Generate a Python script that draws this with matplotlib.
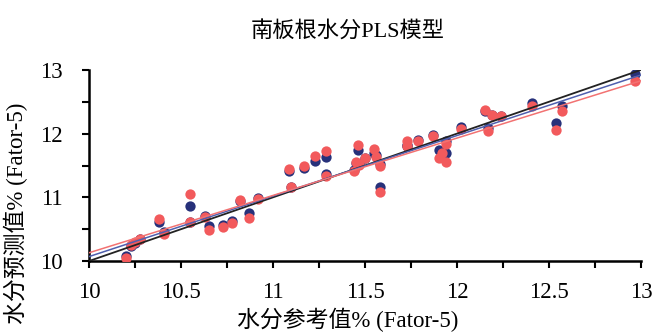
import numpy as np
import matplotlib.pyplot as plt
from matplotlib.ticker import MultipleLocator

plt.rcParams['font.family'] = ['Liberation Serif', 'Noto Sans CJK SC']

# 参考值 (x) 与两组预测值
ref = [10.20, 10.23, 10.25, 10.28, 10.38, 10.41, 10.55, 10.55, 10.63, 10.65,
       10.73, 10.78, 10.82, 10.87, 10.92, 11.09, 11.10, 11.17, 11.23, 11.29,
       11.29, 11.44, 11.45, 11.46, 11.47, 11.50, 11.55, 11.56, 11.58, 11.58,
       11.73, 11.73, 11.79, 11.87, 11.90, 11.92, 11.94, 11.94, 12.02, 12.15,
       12.17, 12.19, 12.24, 12.41, 12.54, 12.57, 12.97]
pred_blue = [10.08, 10.24, 10.29, 10.34, 10.62, 10.45, 10.86, 10.62, 10.70, 10.55,
             10.56, 10.63, 10.94, 10.75, 10.99, 11.42, 11.17, 11.46, 11.57, 11.63,
             11.37, 11.43, 11.54, 11.74, 11.52, 11.62, 11.70, 11.66, 11.52, 11.17,
             11.82, 11.81, 11.90, 11.98, 11.75, 11.72, 11.69, 11.89, 12.10, 12.36,
             12.09, 12.29, 12.28, 12.48, 12.16, 12.43, 12.94]
pred_red = [10.05, 10.25, 10.30, 10.35, 10.66, 10.42, 11.06, 10.62, 10.69, 10.49,
            10.54, 10.60, 10.96, 10.68, 10.98, 11.45, 11.16, 11.49, 11.65, 11.73,
            11.33, 11.41, 11.56, 11.82, 11.51, 11.61, 11.76, 11.64, 11.50, 11.08,
            11.88, 11.81, 11.89, 11.97, 11.62, 11.70, 11.56, 11.83, 12.08, 12.37,
            12.04, 12.30, 12.27, 12.44, 12.05, 12.36, 12.82]

# 拟合线端点
line_x = [10, 13]
line_ref = [10.0, 13.0]
line_blue = [10.07, 12.92]
line_red = [10.13, 12.83]

fig = plt.figure(figsize=(6.54, 3.33), dpi=100)
ax = fig.add_axes([0.136, 0.216, 0.844, 0.574])

ax.scatter(ref, pred_blue, s=55, color='#27317a', zorder=2, linewidths=0)
ax.scatter(ref, pred_red, s=55, color='#f25a5c', zorder=3, linewidths=0)
ax.plot(line_x, line_ref, color='#222222', lw=1.3, zorder=4)
ax.plot(line_x, line_blue, color='#4f5fae', lw=1.1, zorder=4)
ax.plot(line_x, line_red, color='#f27272', lw=1.1, zorder=4)

ax.set_xlim(10, 13)
ax.set_ylim(10, 13)
ax.xaxis.set_major_locator(MultipleLocator(0.5))
ax.xaxis.set_minor_locator(MultipleLocator(0.25))
ax.yaxis.set_major_locator(MultipleLocator(1))
ax.yaxis.set_minor_locator(MultipleLocator(0.5))
ax.set_xticks([10, 10.5, 11, 11.5, 12, 12.5, 13])
ax.set_xticklabels(['10', '10.5', '11', '11.5', '12', '12.5', '13'])
ax.tick_params(which='both', direction='out', length=5, width=1.5, labelsize=16.5)
ax.tick_params(axis='x', pad=10)
ax.tick_params(axis='y', pad=14)
for side in ['top', 'right']:
    ax.spines[side].set_visible(False)
for side in ['left', 'bottom']:
    ax.spines[side].set_linewidth(1.8)

fig.text(0.532, 0.905, '南板根水分PLS模型', ha='center', va='center', fontsize=16)
fig.text(0.532, 0.04, '水分参考值% (Fator-5)', ha='center', va='center', fontsize=16.5)
fig.text(0.025, 0.36, '水分预测值% (Fator-5)', ha='center', va='center',
         rotation=90, fontsize=16.5)

fig.savefig('out.png', dpi=100)
